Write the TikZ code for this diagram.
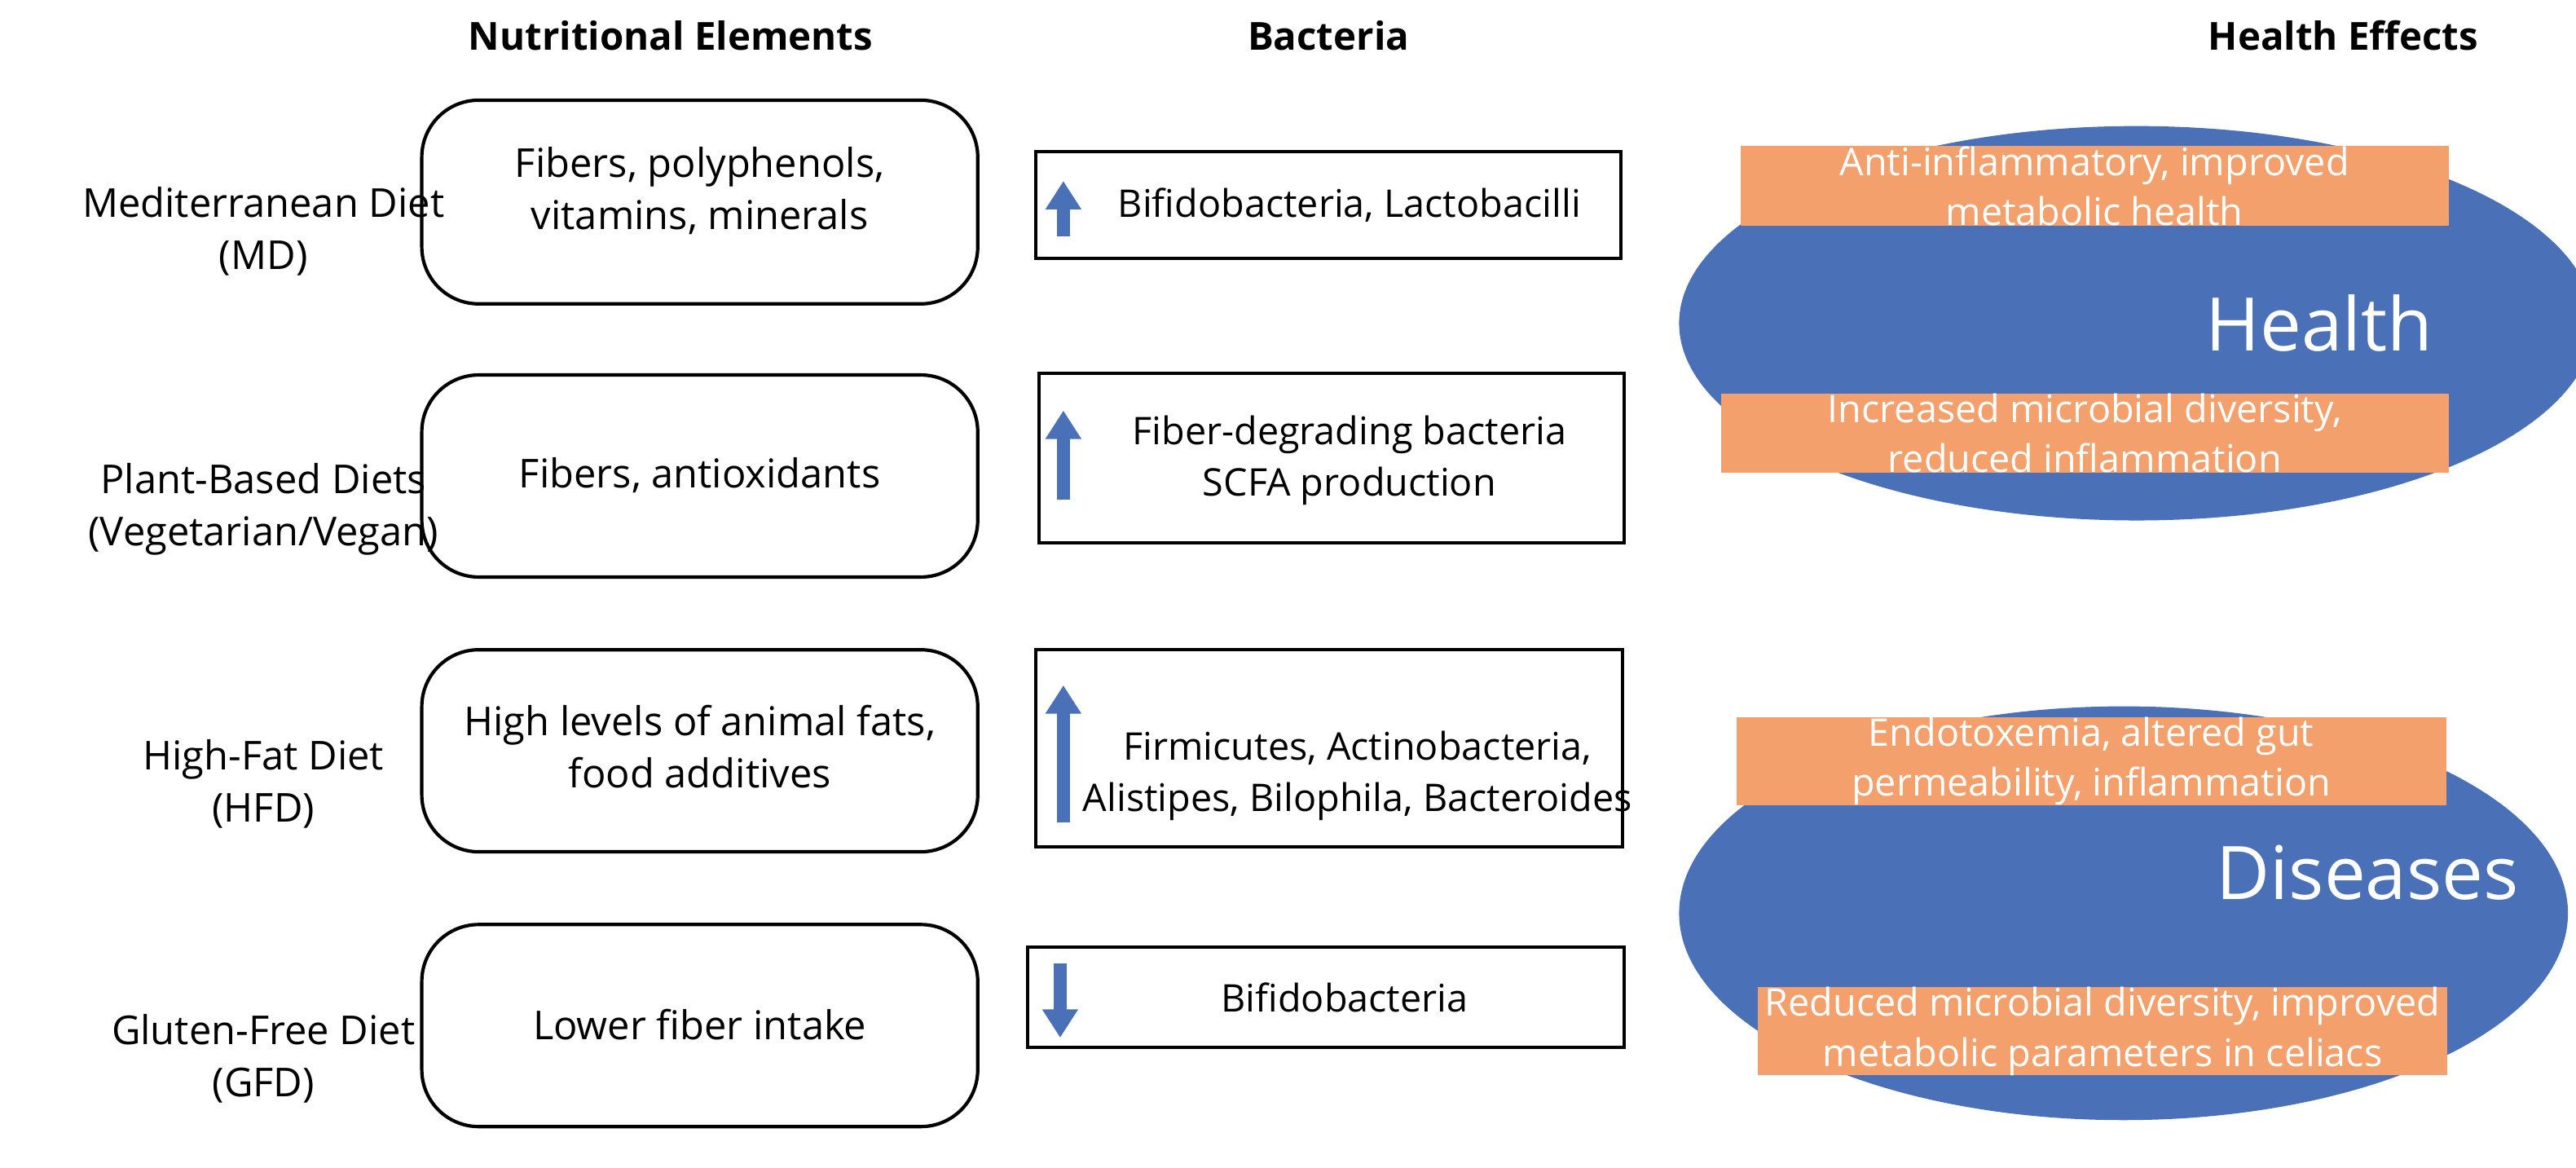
\documentclass[tikz,border=0pt]{standalone}
\usepackage{fontspec}
\setmainfont{Open Sans}
\usetikzlibrary{arrows.meta}
\begin{document}
\begin{tikzpicture}[x=0.01cm,y=-0.01cm,
 lab/.style={align=center,font=\fontsize{7}{9.2}\selectfont},
 blab/.style={align=center,font=\fontsize{6.7}{9}\selectfont},
 hdr/.style={font=\bfseries\fontsize{6.8}{9}\selectfont},
 rbox/.style={draw,rounded corners=10pt,line width=0.6pt},
 bbox/.style={draw,line width=0.6pt},
 obox/.style={fill=orangeb,align=center,text=white,inner sep=0pt,font=\fontsize{6.7}{8.8}\selectfont},
 ell/.style={fill=blueell},
 uparr/.style={-{Triangle[length=5pt,width=6pt]},line width=2.4pt,draw=bluearr}]
\definecolor{orangeb}{HTML}{F4A06C}
\definecolor{blueell}{HTML}{4A70B8}
\definecolor{bluearr}{HTML}{4A70B8}
\useasboundingbox (0,0) rectangle (1594,722.6);
\node[hdr] (h1) at (415,22) {Nutritional Elements};
\node[hdr] (h2) at (822,22) {Bacteria};
\node[hdr] (h3) at (1450,22) {Health Effects};
\node[lab] (l1) at (163,143) {Mediterranean Diet\\(MD)};
\node[lab] (l2) at (163,315) {Plant-Based Diets\\(Vegetarian/Vegan)};
\node[lab] (l3) at (163,485) {High-Fat Diet\\(HFD)};
\node[lab] (l4) at (163,655) {Gluten-Free Diet\\(GFD)};
\draw[rbox] (261,62) rectangle (605,188);
\draw[rbox] (261,232) rectangle (605,357);
\draw[rbox] (261,402) rectangle (605,527);
\draw[rbox] (261,572) rectangle (605,697);
\node[lab] (n1) at (433,118) {Fibers, polyphenols,\\vitamins, minerals};
\node[lab] (n2) at (433,294) {Fibers, antioxidants};
\node[lab] (n3) at (433,462) {High levels of animal fats,\\food additives};
\node[lab] (n4) at (433,634) {Lower fiber intake};
\draw[bbox] (641,94) rectangle (1003,160);
\draw[bbox] (643,231) rectangle (1005,336);
\draw[bbox] (641,402) rectangle (1004,524);
\draw[bbox] (636,586) rectangle (1005,648);
\node[blab] (b1) at (835,127) {Bifidobacteria, Lactobacilli};
\node[blab] (b2) at (835,285) {Fiber-degrading bacteria\\SCFA production};
\node[blab] (b3) at (840,480) {Firmicutes, Actinobacteria,\\Alistipes, Bilophila, Bacteroides};
\node[blab] (b4) at (832,617) {Bifidobacteria};
\coordinate (a1s) at (658,146); \coordinate (a1e) at (658,112);
\coordinate (a2s) at (658,309); \coordinate (a2e) at (658,254);
\coordinate (a3s) at (658,509); \coordinate (a3e) at (658,424);
\coordinate (a4s) at (656,596); \coordinate (a4e) at (656,642);
\draw[uparr] (a1s)--(a1e); \draw[uparr] (a2s)--(a2e);
\draw[uparr] (a3s)--(a3e); \draw[uparr] (a4s)--(a4e);
\fill[ell] (1322,200) ellipse [x radius=283,y radius=122];
\fill[ell] (1314,565) ellipse [x radius=275,y radius=128];
\node[text=white,font=\fontsize{13}{16}\selectfont] (t1) at (1435,200) {Health};
\node[text=white,font=\fontsize{13}{16}\selectfont] (t2) at (1465,540) {Diseases};
\node[obox,minimum width=4.38cm,minimum height=0.46cm] (o1) at (1296,115) {Anti-inflammatory, improved\\metabolic health};
\node[obox,minimum width=4.50cm,minimum height=0.48cm] (o2) at (1290,268) {Increased microbial diversity,\\reduced inflammation};
\node[obox,minimum width=4.39cm,minimum height=0.50cm] (o3) at (1294,471) {Endotoxemia, altered gut\\permeability, inflammation};
\node[obox,minimum width=4.26cm,minimum height=0.53cm] (o4) at (1301,638) {Reduced microbial diversity, improved\\metabolic parameters in celiacs};
\end{tikzpicture}
\end{document}
